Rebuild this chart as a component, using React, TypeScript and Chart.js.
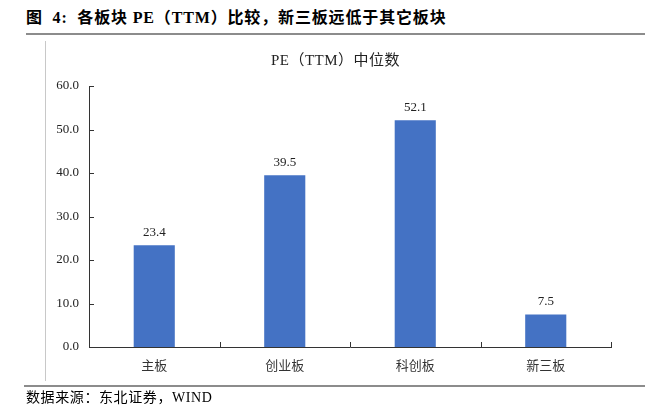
import React, { useEffect, useRef } from "react";
import { Chart, registerables } from "chart.js";

Chart.register(...registerables);

const categories = ["主板", "创业板", "科创板", "新三板"];
const peValues = [23.4, 39.5, 52.1, 7.5];
const yTicks = [0, 10, 20, 30, 40, 50, 60];

const FONT = '"Liberation Serif", "Noto Sans CJK SC", serif';
const BAR_COLOR = "#4472C4";

const valueLabels = {
  id: "valueLabels",
  afterDatasetsDraw(chart: any) {
    const ctx = chart.ctx;
    const meta = chart.getDatasetMeta(0);
    ctx.save();
    ctx.font = `13px ${FONT}`;
    ctx.fillStyle = "#222";
    ctx.textAlign = "center";
    ctx.textBaseline = "bottom";
    meta.data.forEach((bar: any, i: number) => {
      ctx.fillText(peValues[i].toFixed(1), bar.x, bar.y - 6);
    });
    ctx.restore();
  },
};

const innerTicks = {
  id: "innerTicks",
  afterDraw(chart: any) {
    const ctx = chart.ctx;
    const { left, right, bottom } = chart.chartArea;
    const y = chart.scales.y;
    ctx.save();
    ctx.strokeStyle = "#333";
    ctx.lineWidth = 1;
    ctx.beginPath();
    const n = categories.length;
    const step = (right - left) / n;
    for (let i = 1; i <= n; i++) {
      const px = Math.round(left + i * step) + 0.5;
      ctx.moveTo(px, bottom);
      ctx.lineTo(px, bottom - 5);
    }
    yTicks.forEach((v) => {
      const py = Math.round(y.getPixelForValue(v)) + 0.5;
      ctx.moveTo(left, py);
      ctx.lineTo(left + 5, py);
    });
    ctx.stroke();
    ctx.restore();
  },
};

export default function App() {
  const ref = useRef<HTMLCanvasElement>(null);

  useEffect(() => {
    const chart = new Chart(ref.current!, {
      type: "bar",
      data: {
        labels: categories,
        datasets: [
          {
            data: peValues,
            backgroundColor: BAR_COLOR,
            barPercentage: 0.315,
            categoryPercentage: 1,
          },
        ],
      },
      options: {
        animation: false,
        responsive: false,
        maintainAspectRatio: false,
        layout: { padding: { left: 0, right: 60, top: 86, bottom: 0 } },
        plugins: {
          legend: { display: false },
          tooltip: { enabled: false },
          title: { display: false },
        },
        scales: {
          x: {
            grid: { display: false, drawTicks: false },
            border: { display: true, color: "#333", width: 1 },
            ticks: {
              padding: 12,
              color: "#333",
              font: { family: FONT, size: 13 },
            },
            afterFit: (s: any) => {
              s.height = 73;
            },
          },
          y: {
            min: 0,
            max: 60,
            grid: { display: false, drawTicks: false },
            border: { display: true, color: "#333", width: 1 },
            afterBuildTicks: (s: any) => {
              s.ticks = yTicks.map((v) => ({ value: v }));
            },
            ticks: {
              padding: 10,
              color: "#222",
              font: { family: FONT, size: 13 },
              callback: (v: any) => Number(v).toFixed(1),
            },
            afterFit: (s: any) => {
              s.width = 89;
            },
          },
        },
      },
      plugins: [valueLabels, innerTicks],
    });
    return () => chart.destroy();
  }, []);

  return (
    <div
      style={{
        position: "fixed",
        left: 0,
        top: 0,
        width: 671,
        height: 420,
        background: "#fff",
        fontFamily: FONT,
      }}
    >
      <div
        style={{
          position: "absolute",
          left: 26,
          top: 8,
          fontSize: 16,
          letterSpacing: 0.85,
          fontWeight: "bold",
          whiteSpace: "pre",
          color: "#000",
          lineHeight: "20px",
        }}
      >
        {"图  4:  各板块 PE（TTM）比较，新三板远低于其它板块"}
      </div>
      <div
        style={{
          position: "absolute",
          left: 26,
          top: 33,
          width: 619,
          height: 2,
          background: "#8c8c8c",
        }}
      />
      <div
        style={{
          position: "absolute",
          left: 45,
          top: 41,
          width: 1,
          height: 340,
          background: "#c8c8c8",
        }}
      />
      <canvas
        ref={ref}
        width={671}
        height={420}
        style={{ position: "absolute", left: 0, top: 0, width: 671, height: 420 }}
      />
      <div
        style={{
          position: "absolute",
          left: 0,
          width: 671,
          top: 51,
          textAlign: "center",
          fontSize: 15,
          letterSpacing: 0.5,
          color: "#222",
          lineHeight: "18px",
        }}
      >
        {"PE（TTM）中位数"}
      </div>
      <div
        style={{
          position: "absolute",
          left: 24,
          top: 385,
          width: 621,
          height: 2,
          background: "#8c8c8c",
        }}
      />
      <div
        style={{
          position: "absolute",
          left: 26,
          top: 389,
          fontSize: 14,
          letterSpacing: 0.6,
          color: "#000",
          lineHeight: "18px",
        }}
      >
        {"数据来源：东北证券，WIND"}
      </div>
    </div>
  );
}
